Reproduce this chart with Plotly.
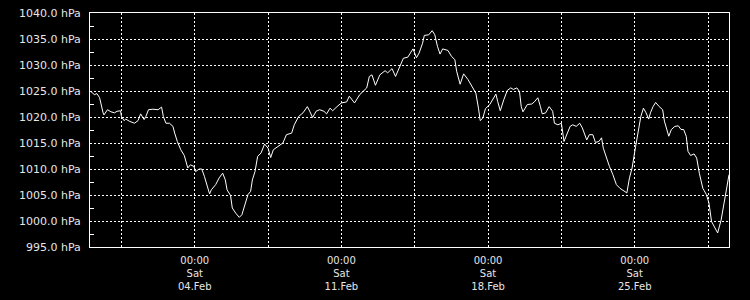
import datetime as dt
import plotly.graph_objects as go

# Time axis: hours after 2023-01-30 00:00, pressure in hPa
start = dt.datetime(2023, 1, 30, 0, 0)
hours = [1, 5, 8, 11, 15, 16, 20, 24, 28, 31, 35, 36, 39, 41, 45, 51, 55, 58, 62, 64,
         67, 72, 78, 82, 84, 87, 91, 95, 97, 100, 104, 108, 112, 115, 119, 121, 125, 128, 131, 134,
         137, 139, 144, 148, 152, 155, 157, 161, 163, 167, 171, 174, 177, 181, 184, 186, 189, 192, 196, 200,
         204, 207, 210, 215, 221, 225, 231, 234, 239, 244, 249, 252, 255, 259, 263, 268, 271, 275, 278, 283,
         288, 294, 297, 303, 309, 317, 320, 323, 327, 332, 338, 341, 346, 350, 355, 359, 364, 367, 370, 374,
         377, 381, 383, 388, 392, 395, 398, 401, 404, 410, 414, 418, 420, 424, 428, 433, 438, 442, 445, 447,
         450, 453, 458, 461, 465, 467, 470, 474, 478, 482, 485, 489, 492, 494, 496, 501, 506, 509, 513, 516,
         518, 522, 526, 530, 532, 536, 540, 543, 546, 550, 553, 557, 561, 564, 569, 572, 576, 579, 583, 586,
         588, 592, 595, 599, 603, 607, 611, 615, 618, 621, 625, 628, 631, 634, 637, 640, 642, 645, 648, 652,
         656, 658, 663, 666, 670, 674, 677, 680, 683, 685, 688, 692, 695, 698, 702, 706, 709, 712, 716, 719,
         723, 726, 729, 732]
pressure = [1024.9, 1024.3, 1024.5, 1023.7, 1020.8, 1020.4, 1021.4, 1021.0, 1020.8, 1021.1, 1021.2, 1020.1, 1019.3, 1019.6, 1019.2, 1018.8, 1019.3, 1020.6, 1019.5, 1020.1,
            1021.4, 1021.5, 1021.4, 1021.9, 1020.1, 1018.8, 1018.8, 1018.2, 1016.9, 1015.3, 1013.7, 1012.6, 1010.2, 1010.8, 1010.5, 1009.5, 1010.0, 1010.0, 1008.6, 1006.7,
            1005.2, 1006.0, 1007.0, 1008.3, 1009.2, 1007.9, 1006.0, 1004.9, 1002.5, 1001.5, 1000.7, 1001.2, 1003.1, 1005.1, 1005.7, 1007.9, 1009.5, 1012.4, 1013.1, 1014.8,
            1014.0, 1012.2, 1013.7, 1014.3, 1015.0, 1016.6, 1016.9, 1018.5, 1020.1, 1020.8, 1022.0, 1021.0, 1019.9, 1021.1, 1021.4, 1021.1, 1020.6, 1021.7, 1021.2, 1022.0,
            1022.7, 1022.9, 1024.0, 1022.7, 1024.3, 1025.6, 1027.8, 1028.1, 1026.1, 1028.1, 1028.9, 1028.5, 1029.3, 1027.8, 1029.7, 1031.3, 1031.5, 1032.3, 1033.1, 1031.4,
            1032.3, 1034.2, 1035.7, 1035.8, 1036.6, 1035.8, 1033.6, 1032.1, 1033.1, 1032.8, 1031.7, 1031.0, 1028.8, 1026.3, 1028.3, 1027.2, 1025.6, 1024.6, 1021.7, 1019.3,
            1019.8, 1021.6, 1022.4, 1023.3, 1024.4, 1023.0, 1021.2, 1023.3, 1025.1, 1025.6, 1025.3, 1025.6, 1024.9, 1022.0, 1021.0, 1022.4, 1022.5, 1022.9, 1023.7, 1022.0,
            1020.6, 1020.8, 1022.0, 1021.1, 1018.8, 1018.5, 1018.8, 1015.3, 1016.6, 1018.2, 1018.5, 1018.2, 1018.8, 1017.9, 1015.6, 1016.6, 1016.6, 1015.1, 1015.3, 1016.0,
            1014.0, 1011.8, 1010.5, 1008.9, 1007.0, 1006.3, 1005.8, 1005.4, 1008.3, 1010.2, 1014.3, 1017.6, 1020.1, 1021.7, 1020.8, 1019.6, 1020.8, 1022.0, 1022.8, 1022.0,
            1021.4, 1019.2, 1016.3, 1017.6, 1018.2, 1018.3, 1017.6, 1017.6, 1016.3, 1013.4, 1012.6, 1012.9, 1012.1, 1009.2, 1006.3, 1005.1, 1003.5, 999.9, 998.7, 997.7,
            1000.2, 1003.1, 1006.7, 1008.9]

times = [start + dt.timedelta(hours=h) for h in hours]

x_range = ["2023-01-30 00:00", "2023-03-01 12:00"]
y_range = [995, 1040]

fig = go.Figure()
fig.add_trace(go.Scatter(x=times, y=pressure, mode="lines",
                         line=dict(color="white", width=1), hoverinfo="skip"))

yfont = dict(family="DejaVu Sans", size=11, color="#e6e6e6")
xfont = dict(family="DejaVu Sans", size=10, color="#e6e6e6")
grid_dash = "2px,2px"
DAY = 86400000

fig.update_layout(
    width=750, height=300,
    margin=dict(l=90, r=21, t=13, b=53),
    paper_bgcolor="black", plot_bgcolor="black",
    showlegend=False,
    font=yfont,
    xaxis=dict(
        type="date", range=x_range, automargin=False,
        tick0="2023-02-04 00:00", dtick=7 * DAY,
        tickformat="%H:%M<br>%a<br>%d.%b",
        ticks="", showgrid=True, gridcolor="white", gridwidth=1, griddash=grid_dash,
        minor=dict(dtick=int(3.5 * DAY), tick0="2023-02-04 00:00", showgrid=True,
                   gridcolor="white", gridwidth=1, griddash=grid_dash, ticks=""),
        showline=True, linecolor="white", linewidth=1, mirror=True,
        zeroline=False, tickfont=xfont, ticklabelstandoff=4,
    ),
    yaxis=dict(
        range=y_range, tick0=995, dtick=5, tickformat=".1f", ticksuffix=" hPa",
        automargin=False,
        ticks="", showgrid=True, gridcolor="white", gridwidth=1, griddash=grid_dash,
        minor=dict(dtick=2.5, tick0=995, ticks="inside", ticklen=4, tickcolor="white",
                   tickwidth=1, showgrid=False),
        showline=True, linecolor="white", linewidth=1, mirror=True,
        zeroline=False, tickfont=yfont, ticklabelstandoff=6,
    ),
)

fig.write_html("out.html")
